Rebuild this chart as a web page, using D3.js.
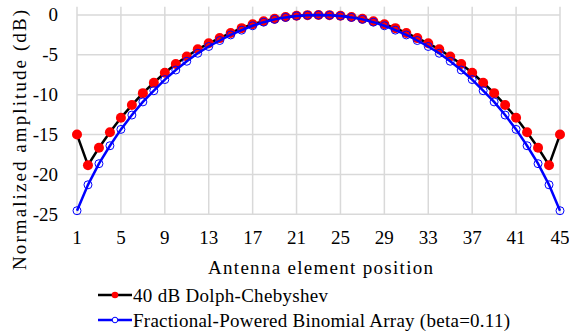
<!DOCTYPE html>
<html>
<head>
<meta charset="utf-8">
<script src="https://cdn.jsdelivr.net/npm/d3@7"></script>
<style>
@font-face{font-family:"ChartSerif";src:local("Liberation Serif"),local("LiberationSerif"),local("Tinos"),local("Times New Roman");}
</style>
</head>
<body style="margin:0">
<svg id="s" width="569" height="332"></svg>
<script>
const elements = [1,2,3,4,5,6,7,8,9,10,11,12,13,14,15,16,17,18,19,20,21,22,23,24,25,26,27,28,29,30,31,32,33,34,35,36,37,38,39,40,41,42,43,44,45];
const dolphChebyshev = [-15.0,-18.85,-16.65,-14.7,-12.9,-11.3,-9.8,-8.5,-7.25,-6.15,-5.2,-4.3,-3.55,-2.9,-2.25,-1.65,-1.15,-0.78,-0.47,-0.25,-0.1,-0.02,0,
  -0.02,-0.1,-0.25,-0.47,-0.78,-1.15,-1.65,-2.25,-2.9,-3.55,-4.3,-5.2,-6.15,-7.25,-8.5,-9.8,-11.3,-12.9,-14.7,-16.65,-18.85,-15.0];
const binomial = [-24.55,-21.3,-18.65,-16.4,-14.35,-12.55,-10.9,-9.5,-8.1,-6.9,-5.8,-4.8,-3.95,-3.2,-2.5,-1.9,-1.35,-0.9,-0.55,-0.3,-0.12,-0.03,0,
  -0.03,-0.12,-0.3,-0.55,-0.9,-1.35,-1.9,-2.5,-3.2,-3.95,-4.8,-5.8,-6.9,-8.1,-9.5,-10.9,-12.55,-14.35,-16.4,-18.65,-21.3,-24.55];
const xTicks = [1,5,9,13,17,21,25,29,33,37,41,45];
const yTicks = [0,-5,-10,-15,-20,-25];
const seriesNames = ["40 dB Dolph-Chebyshev","Fractional-Powered Binomial Array (beta=0.11)"];
const xTitle = "Antenna element position";
const yTitle = "Normalized amplitude (dB)";

const svg = d3.select("#s");
const x = d3.scaleLinear().domain([1,45]).range([77,560]);
const y = d3.scaleLinear().domain([-25,0]).range([214.3,15]);
const fs = 19;
const fam = d => "'Liberation Serif'";

// gridlines
svg.append("g").selectAll("line").data(yTicks).join("line")
  .attr("x1",x(1)).attr("x2",x(45)).attr("y1",d=>y(d)).attr("y2",d=>y(d))
  .attr("stroke","#d9d9d9").attr("stroke-width",1.5);
svg.append("g").selectAll("line").data(xTicks).join("line")
  .attr("x1",d=>x(d)).attr("x2",d=>x(d)).attr("y1",y(-25)).attr("y2",y(1.05))
  .attr("stroke","#d9d9d9").attr("stroke-width",1.5);

// tick labels (drawn from the scales' tick values)
const yFmt = d => d===0 ? "0" : "-"+Math.abs(d);
svg.append("g").selectAll("text").data(yTicks).join("text")
  .attr("x",58).attr("y",d=>y(d)).attr("dy","0.34em").attr("text-anchor","end").attr("font-size",fs)
  .style("font-family",fam).text(yFmt);
svg.append("g").selectAll("text").data(xTicks).join("text")
  .attr("x",d=>x(d)).attr("y",230).attr("dy","0.72em").attr("text-anchor","middle").attr("font-size",fs)
  .style("font-family",fam).text(d=>d);

// titles
svg.append("g").selectAll("text").data([xTitle]).join("text")
  .attr("x",320.5).attr("y",274).attr("text-anchor","middle").attr("font-size",fs)
  .attr("textLength",225).attr("lengthAdjust","spacing").style("font-family",fam).text(d=>d);
svg.append("g").selectAll("text").data([yTitle]).join("text")
  .attr("transform","translate(26,140) rotate(-90)").attr("text-anchor","middle").attr("font-size",fs)
  .attr("textLength",260).attr("lengthAdjust","spacing").style("font-family",fam).text(d=>d);

// series
const line = d3.line().x((d,i)=>x(elements[i])).y(d=>y(d));
svg.append("path").datum(dolphChebyshev).attr("d",line).attr("fill","none").attr("stroke","#000").attr("stroke-width",2.5);
svg.append("g").selectAll("circle").data(dolphChebyshev).join("circle")
  .attr("cx",(d,i)=>x(elements[i])).attr("cy",d=>y(d)).attr("r",5).attr("fill","#ff0000");
svg.append("path").datum(binomial).attr("d",line).attr("fill","none").attr("stroke","#0000ff").attr("stroke-width",2.5);
svg.append("g").selectAll("circle").data(binomial).join("circle")
  .attr("cx",(d,i)=>x(elements[i])).attr("cy",d=>y(d)).attr("r",4).attr("fill","none").attr("stroke","#0000ff").attr("stroke-width",1);

// legend
const legY = [295,320];
const legW = [195,377];
const legCol = ["#000","#0000ff"];
const lg = svg.append("g");
lg.selectAll("line").data(seriesNames).join("line")
  .attr("x1",98).attr("x2",132).attr("y1",(d,i)=>legY[i]).attr("y2",(d,i)=>legY[i])
  .attr("stroke",(d,i)=>legCol[i]).attr("stroke-width",2.5);
lg.append("circle").attr("cx",115).attr("cy",legY[0]).attr("r",3.3).attr("fill","#ff0000");
lg.append("circle").attr("cx",115).attr("cy",legY[1]).attr("r",2.8).attr("fill","#fff").attr("stroke","#0000ff").attr("stroke-width",1);
lg.selectAll("text").data(seriesNames).join("text")
  .attr("x",133).attr("y",(d,i)=>legY[i]+6.5).attr("font-size",fs)
  .attr("textLength",(d,i)=>legW[i]).attr("lengthAdjust","spacing")
  .style("font-family",fam).text(d=>d);
</script>
</body>
</html>
